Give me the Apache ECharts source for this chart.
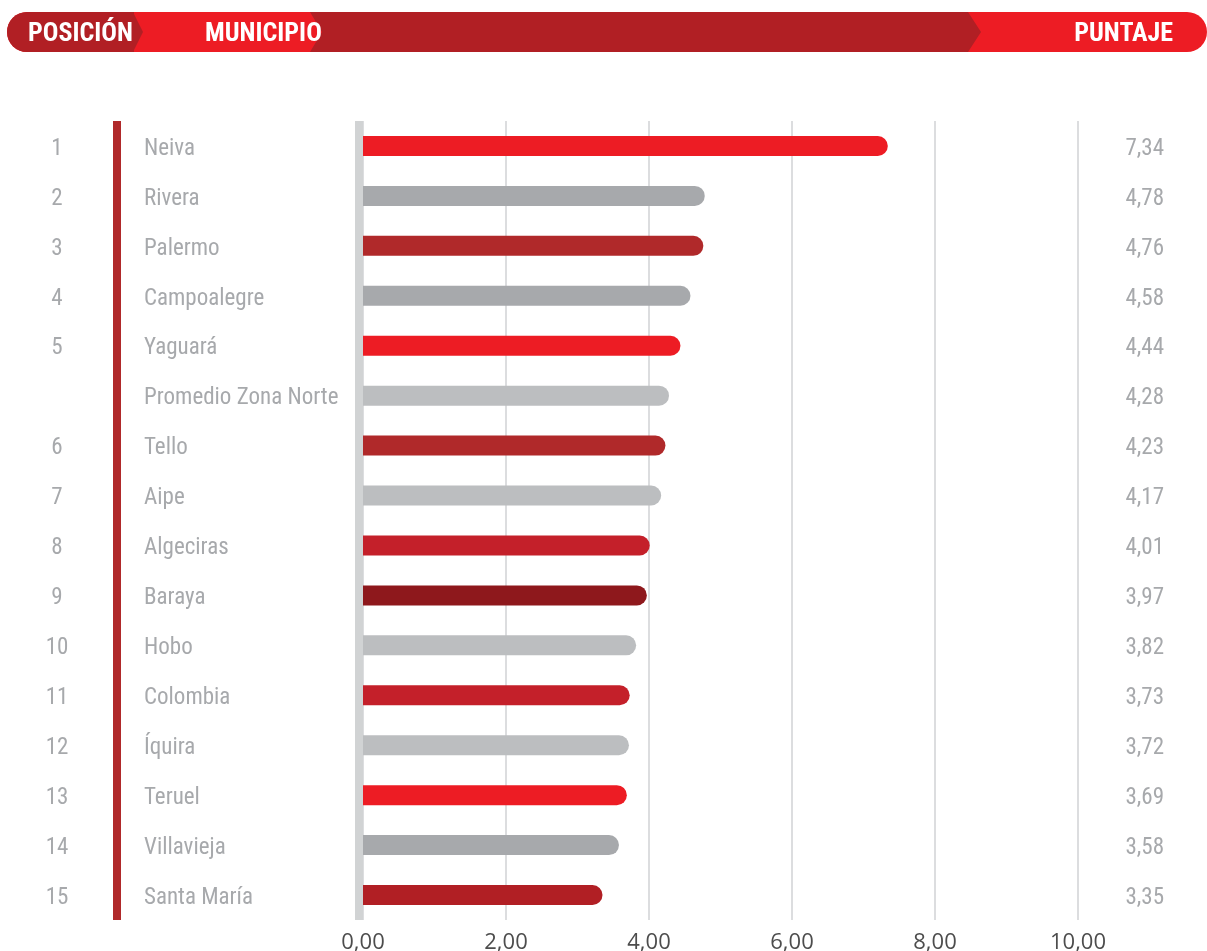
<!DOCTYPE html>
<html>
<head>
<meta charset="utf-8">
<script src="https://cdn.jsdelivr.net/npm/echarts@6/dist/echarts.min.js"></script>
<style>
html,body{margin:0;padding:0;background:#fff;}
#Echarts1{width:1207px;height:951px;}
</style>
</head>
<body>
<div id="Echarts1"></div>
<script>
'use strict';
var myChart1 = echarts.init(document.getElementById('Echarts1'));

// datos
var municipios = ['Neiva', 'Rivera', 'Palermo', 'Campoalegre', 'Yaguará', 'Promedio Zona Norte', 'Tello', 'Aipe',
    'Algeciras', 'Baraya', 'Hobo', 'Colombia', 'Íquira', 'Teruel', 'Villavieja', 'Santa María'];
var posiciones = ['1', '2', '3', '4', '5', '', '6', '7', '8', '9', '10', '11', '12', '13', '14', '15'];
var puntajes = [7.34, 4.78, 4.76, 4.58, 4.44, 4.28, 4.23, 4.17, 4.01, 3.97, 3.82, 3.73, 3.72, 3.69, 3.58, 3.35];
var colores = ['#ed1c24', '#a7a9ac', '#b0292a', '#a7a9ac', '#ed1c24', '#bcbec0', '#b0292a', '#bcbec0',
    '#c4202a', '#8e181c', '#bcbec0', '#c4202a', '#bcbec0', '#ed1c24', '#a7a9ac', '#b11f24'];
var xTicks = [0, 2, 4, 6, 8, 10];

var fuente = '"Roboto Condensed", "Liberation Sans Narrow", "DejaVu Sans Condensed", sans-serif';

function coma(v) {
    return v.toFixed(2).replace('.', ',');
}

var seriesData = puntajes.map(function (v, i) {
    return { value: v, itemStyle: { color: colores[i] } };
});

var headerText = {
    fill: '#fff',
    fontFamily: fuente,
    fontWeight: 'bold',
    fontSize: 26,
    verticalAlign: 'middle'
};

// etiquetas grises, bajadas un poco con rich
function labelGris(extra) {
    return Object.assign({
        formatter: function (v) { return '{a|' + v + '}'; },
        rich: {
            a: {
                color: '#a7a9ac',
                fontFamily: fuente,
                fontWeight: 'normal',
                fontSize: 23,
                padding: [6, 0, 0, 0]
            }
        }
    }, extra);
}

var option = {
    animation: false,
    backgroundColor: '#fff',
    graphic: [
        // cabecera
        { type: 'rect', shape: { x: 7, y: 12, width: 1200, height: 40, r: 20 }, style: { fill: '#ed1c24' } },
        { type: 'polygon', shape: { points: [[310, 12], [968, 12], [981, 32], [968, 52], [310, 52], [322, 32]] }, style: { fill: '#b11f24' } },
        { type: 'rect', shape: { x: 7, y: 12, width: 127, height: 40, r: [20, 0, 0, 20] }, style: { fill: '#b11f24' } },
        { type: 'polygon', shape: { points: [[133, 12], [143, 32], [133, 52]] }, style: { fill: '#b11f24' } },
        { type: 'text', x: 28, y: 34, style: Object.assign({ text: 'POSICIÓN', textAlign: 'left' }, headerText) },
        { type: 'text', x: 205, y: 34, style: Object.assign({ text: 'MUNICIPIO', textAlign: 'left' }, headerText) },
        { type: 'text', x: 1173, y: 34, style: Object.assign({ text: 'PUNTAJE', textAlign: 'right' }, headerText) }
    ],
    grid: {
        left: 363,
        right: 129,
        top: 121,
        bottom: 31,
        containLabel: false,
        outerBoundsMode: 'none'
    },
    xAxis: {
        type: 'value',
        min: 0,
        max: 10,
        interval: 2,
        axisLine: { show: false },
        axisTick: { show: false },
        splitLine: { show: true, lineStyle: { color: '#dcdddf', width: 2 } },
        axisLabel: {
            margin: 12,
            color: '#4d4d4d',
            fontFamily: '"Open Sans", sans-serif',
            fontSize: 22,
            formatter: function (v) { return coma(v); },
            customValues: xTicks
        }
    },
    yAxis: [
        {
            // nombres
            type: 'category',
            position: 'left',
            inverse: true,
            data: municipios,
            axisLine: { show: false },
            axisTick: { show: false },
            axisLabel: labelGris({ margin: 219, align: 'left' })
        },
        {
            // posiciones + línea roja
            type: 'category',
            position: 'left',
            inverse: true,
            data: posiciones,
            offset: 246,
            axisLine: { show: true, lineStyle: { color: '#b0292a', width: 8, cap: 'butt' } },
            axisTick: { show: false },
            axisLabel: labelGris({ margin: 60, align: 'center' })
        },
        {
            // línea gris del eje
            type: 'category',
            position: 'left',
            inverse: true,
            data: municipios,
            offset: 4,
            axisLine: { show: true, lineStyle: { color: '#d1d3d4', width: 8, cap: 'butt' } },
            axisTick: { show: false },
            axisLabel: { show: false }
        },
        {
            // puntaje a la derecha
            type: 'category',
            position: 'right',
            inverse: true,
            data: puntajes.map(coma),
            axisLine: { show: false },
            axisTick: { show: false },
            axisLabel: labelGris({ margin: 86, align: 'right' })
        }
    ],
    series: [
        {
            type: 'bar',
            yAxisIndex: 0,
            barWidth: 20,
            itemStyle: { borderRadius: [0, 10, 10, 0] },
            data: seriesData
        }
    ]
};
myChart1.setOption(option);
</script>
</body>
</html>
